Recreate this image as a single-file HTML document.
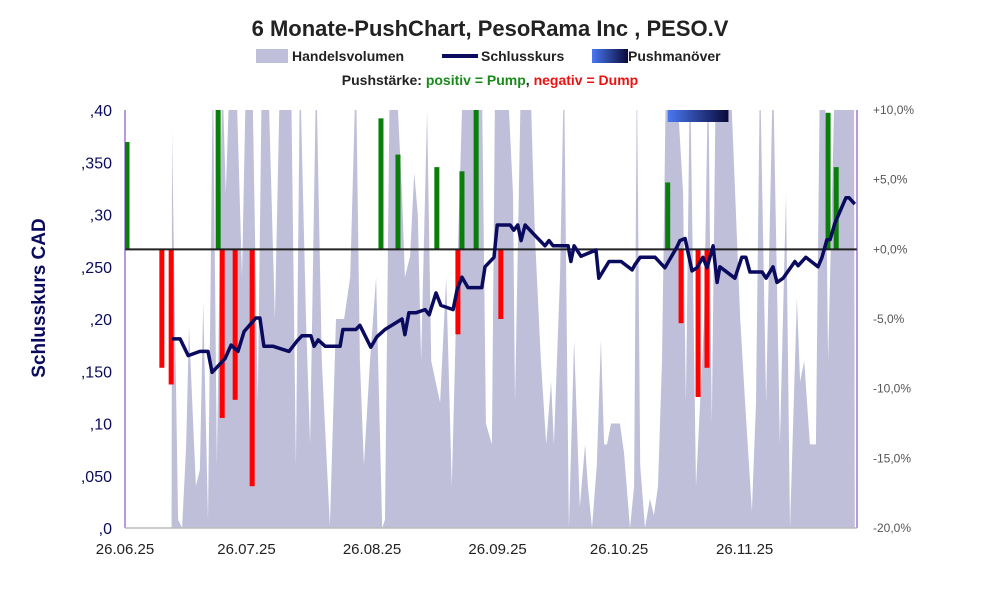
<!DOCTYPE html>
<html><head><meta charset="utf-8"><style>
body{margin:0;background:#fff;font-family:"Liberation Sans",sans-serif}
svg text{font-family:"Liberation Sans",sans-serif}
</style></head><body>
<svg width="991" height="593" viewBox="0 0 991 593">
<defs><linearGradient id="pg" x1="0" x2="1"><stop offset="0" stop-color="#4a78f0"/><stop offset="1" stop-color="#0a0a3a"/></linearGradient>
<clipPath id="pc"><rect x="125" y="110" width="732" height="418"/></clipPath></defs>
<text x="490" y="36" text-anchor="middle" font-size="22" font-weight="bold" fill="#222">6 Monate-PushChart, PesoRama Inc , PESO.V</text>
<g font-size="14" font-weight="bold" fill="#222">
<rect x="256" y="49" width="32" height="14" fill="#bfbfda"/>
<text x="292" y="61">Handelsvolumen</text>
<line x1="442" y1="56" x2="478" y2="56" stroke="#0a0a5e" stroke-width="4"/>
<text x="481" y="61">Schlusskurs</text>
<rect x="592" y="49" width="36" height="14" fill="url(#pg)"/>
<text x="628" y="61">Pushmanöver</text>
</g>
<text x="490" y="85" text-anchor="middle" font-size="14" font-weight="bold"><tspan fill="#222">Pushstärke:  </tspan><tspan fill="#1a8a1a">positiv = Pump</tspan><tspan fill="#222">,  </tspan><tspan fill="#ee1111">negativ = Dump</tspan></text>
<text transform="translate(45,298) rotate(-90)" text-anchor="middle" font-size="19" font-weight="bold" fill="#0a0a5e">Schlusskurs CAD</text>
<g id="plot" clip-path="url(#pc)"></g>
<g id="axes"></g>
</svg>
<script>
const volDays=[0,11.5,11.6,13.1,14.1,15.1,15.8,17.5,18.5,19.3,20.5,21.7,22.7,24,24.9,25.9,27.4,28.9,29.9,31.4,32.8,33.8,35.3,37,38.3,39.8,41,42.2,43.2,44.7,45.7,47.2,48.6,50.6,52.1,54.1,55.6,57,58,59,60.5,62,63.5,64.2,65.4,66.9,68.4,69.1,70.4,71.4,72.3,73.1,74.6,75.6,77.8,79.3,80.7,82,83.5,85.2,86.7,88.1,89.1,90.6,91.4,92.8,94.3,95.8,96.3,97.8,98.8,100,101.2,102.7,104,105.2,105.9,107.4,108.4,109.6,110.9,112.3,113.6,114.3,115.3,116.5,117.5,118.3,119,120,122.2,123.2,124.7,125.7,126.4,127.2,128.4,129.6,130.6,131.6,132.6,133.6,134.6,136,137.8,138.5,139.5,141,142,143,144,144.9,145.9,147.7,149.4,151.9,153.1,154.8,155.8,156.8,158.3,160,161.7,163.2,164.2,165.9,166.7,167.7,169.1,170.6,171.6,172.8,173.6,175.3,177,179,180,180.2];
const volValues=[0,0,95,2,0,20,48,10,14,54,2,110,15,110,80,110,110,60,110,110,30,110,110,50,110,120,110,15,110,50,20,110,40,0.5,50,50,60,110,40,15,40,60,0,2,110,110,80,60,65,85,75,40,100,40,30,60,10,60,110,110,110,110,25,20,110,110,110,80,30,110,110,110,70,40,20,35,20,60,110,0,45,5,20,10,0,15,45,20,20,25,25,18,0,10,110,15,0,7,3,10,40,110,110,110,80,30,110,10,30,50,110,25,110,110,110,50,30,4,30,110,30,110,20,80,0,55,35,40,20,20,110,110,40,110,110,110,110,0];
const priceDays=[11.6,13.6,15.6,18.5,20.5,21.5,24.7,26.2,27.9,29.4,32.3,33.3,34.3,36.5,40.5,42.5,43.7,45.9,46.7,47.7,49.4,53.1,53.8,57,58,60.7,62.2,64.2,68.4,69.1,70.1,71.9,74.1,75.1,76.8,78,81,82,83.2,84.7,88.1,88.9,91.1,91.9,95.1,96,97,97.8,98.8,101,103.7,104.7,105.7,109.4,110.1,110.9,112.6,116.3,117,119.5,122.5,125.2,125.9,127.2,130.9,133.3,136.3,137,138.3,140,141.2,142.7,143.7,145.2,146.2,146.9,150.6,152.3,153.3,154.3,157.3,158.3,160,161,162.5,165.4,166.2,168.1,171.1,172.1,173.3,174.1,175.3,178,178.8,180.2];
const priceValues=[.181,.181,.165,.169,.169,.149,.162,.175,.169,.188,.201,.201,.174,.174,.169,.179,.184,.184,.174,.18,.174,.174,.19,.19,.194,.173,.183,.19,.2,.185,.206,.206,.209,.204,.225,.213,.209,.228,.24,.23,.23,.25,.259,.29,.29,.285,.29,.275,.29,.281,.27,.275,.27,.27,.255,.27,.26,.266,.239,.255,.255,.247,.252,.259,.259,.249,.269,.275,.277,.246,.249,.259,.249,.27,.235,.25,.239,.259,.259,.245,.245,.239,.25,.235,.239,.255,.251,.259,.25,.259,.276,.276,.292,.316,.316,.31];
const pushDays=[0.5,9.1,11.4,23,24,27.2,31.4,63.2,67.4,77,82.2,83.2,86.7,92.8,134,137.3,141.5,143.7,173.6,175.6];
const pushValues=[7.7,-8.5,-9.7,10.5,-12.1,-10.8,-17,9.4,6.8,5.9,-6.1,5.6,10.5,-5,4.8,-5.3,-10.6,-8.5,9.8,5.9];
const yTicks=[",0",",050",",10",",150",",20",",250",",30",",350",",40"];
const pctTicks=["-20,0%","-15,0%","-10,0%","-5,0%","+0,0%","+5,0%","+10,0%"];
const xTicks=["26.06.25","26.07.25","26.08.25","26.09.25","26.10.25","26.11.25"];
const xTickDays=[0,30,61,92,122,153];
const pushZone=[134,149];

const NS="http://www.w3.org/2000/svg";
const X0=125,X1=857,Y0=528,Y1=110;
const xs=d=>X0+d*4.05;
const yp=v=>Y0-v/0.4*(Y0-Y1);
const yv=v=>Y0-v/100*(Y0-Y1);
const ypct=p=>Y0-(p+20)/30*(Y0-Y1);
function mk(tag,attrs,parent){const e=document.createElementNS(NS,tag);for(const k in attrs)e.setAttribute(k,attrs[k]);parent.appendChild(e);return e;}
const plot=document.getElementById('plot'),axes=document.getElementById('axes');
let d="M"+xs(volDays[0])+","+Y0;
volDays.forEach((v,i)=>{d+=" L"+xs(v).toFixed(1)+","+yv(volValues[i]).toFixed(1);});
d+=" L"+xs(volDays[volDays.length-1])+","+Y0+" Z";
const va=mk('path',{d:d,fill:'#bfbfda'},plot);


const pz=mk('rect',{x:xs(pushZone[0]),y:Y1,width:xs(pushZone[1])-xs(pushZone[0]),height:12,fill:'url(#pg)'},plot);


pushDays.forEach((p,i)=>{const v=pushValues[i];const y0=ypct(0),y1=ypct(v);
const b=mk('rect',{x:xs(p)-2.5,y:Math.min(y0,y1),width:5,height:Math.abs(y1-y0),fill:v>0?'#0a7d0a':'#ff0000'},plot);

});
const zl=mk('line',{x1:X0,x2:X1,y1:ypct(0),y2:ypct(0),stroke:'#222','stroke-width':2},plot);


const pts=priceDays.map((p,i)=>xs(p).toFixed(1)+","+yp(priceValues[i]).toFixed(1)).join(" ");
const pl=mk('polyline',{points:pts,fill:'none',stroke:'#0a0a5e','stroke-width':3.5,'stroke-linejoin':'round'},plot);


const la=mk('line',{x1:X0,x2:X0,y1:Y1,y2:Y0,stroke:'#7030c0','stroke-width':1},axes);


const ra=mk('line',{x1:X1,x2:X1,y1:Y1,y2:Y0,stroke:'#7030c0','stroke-width':1},axes);


const ba=mk('line',{x1:X0,x2:X1,y1:Y0,y2:Y0,stroke:'#bbb','stroke-width':1.5},axes);


yTicks.forEach((t,i)=>{const e=mk('text',{x:112,y:yp(i*0.05)+6,'text-anchor':'end','font-size':16,fill:'#0a0a5e'},axes);e.textContent=t;

});
pctTicks.forEach((t,i)=>{const e=mk('text',{x:873,y:ypct(-20+i*5)+4,'font-size':12,fill:'#555'},axes);e.textContent=t;

});
xTicks.forEach((t,i)=>{const e=mk('text',{x:xs(xTickDays[i]),y:554,'text-anchor':'middle','font-size':15,fill:'#222'},axes);e.textContent=t;

});
</script>
</body></html>
